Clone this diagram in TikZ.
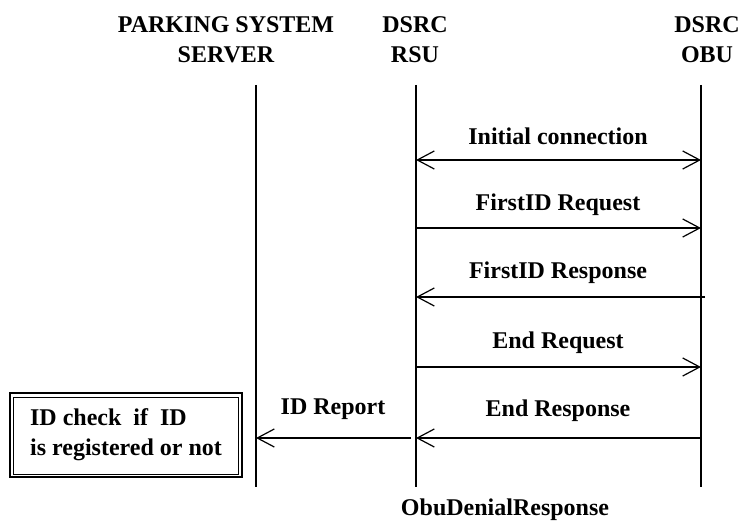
\documentclass[tikz,border=0pt]{standalone}
\usepackage{fontspec}
\setmainfont{Liberation Serif}
\usepackage{tikz}
\usetikzlibrary{arrows.meta,calc}
\newcommand{\msgfont}{\fontsize{12}{15}\selectfont\bfseries}
\tikzset{
  head/.style={font=\msgfont, align=center, inner sep=0pt},
  msg/.style={font=\msgfont, inner sep=0pt},
  life/.style={line width=0.6pt},
  flow/.style={-{Straight Barb[length=8.5pt,width=9pt]}, line width=0.6pt},
  flows/.style={{Straight Barb[length=8.5pt,width=9pt]}-{Straight Barb[length=8.5pt,width=9pt]}, line width=0.6pt},
  chk/.style={draw, line width=1pt, align=left, font=\msgfont, inner sep=0pt,
              minimum width=116pt, minimum height=42pt},
}

\begin{document}
\begin{tikzpicture}[x=0.5pt, y=-0.5pt]
  \useasboundingbox (0,0) rectangle (744,524);
  \node[head] (srv) at (226,40) {PARKING SYSTEM\\SERVER};
  \node[head] (rsu) at (415,40) {DSRC\\RSU};
  \node[head] (obu) at (707,40) {DSRC\\OBU};
  % lifelines
  \coordinate (srvT) at (256,85);  \coordinate (srvB) at (256,487);
  \coordinate (rsuT) at (416,85);  \coordinate (rsuB) at (416,487);
  \coordinate (obuT) at (701,85);  \coordinate (obuB) at (701,487);
  \draw[life] (srvT) -- (srvB);
  \draw[life] (rsuT) -- (rsuB);
  \draw[life] (obuT) -- (obuB);
  % messages
  \coordinate (m1) at (0,160);
  \coordinate (m2) at (0,228);
  \coordinate (m3) at (0,297);
  \coordinate (m4) at (0,367);
  \coordinate (m5) at (0,438);
  \draw[flows] (rsuT |- m1) -- (obuT |- m1);
  \node[msg] (l1) at (558,136) {Initial connection};
  \draw[flow] (rsuT |- m2) -- (obuT |- m2);
  \node[msg] (l2) at (558,205) {FirstID Request};
  \draw[flow] ($(obuT |- m3)+(2pt,0)$) -- (rsuT |- m3);
  \node[msg] (l3) at (558,273) {FirstID Response};
  \draw[flow] (rsuT |- m4) -- (obuT |- m4);
  \node[msg] (l4) at (558,343) {End Request};
  \draw[flow] (obuT |- m5) -- (rsuT |- m5);
  \node[msg] (l5) at (558,411) {End Response};
  \draw[flow] ($(rsuT |- m5)+(-2.5pt,0)$) -- (srvT |- m5);
  \node[msg] (l6) at (333,409) {ID Report};
  % check box
  \node[chk] (idchk) at (126,435) {ID check~ if~ ID\\is registered or not};
  \draw[line width=0.5pt] ($(idchk.north west)+(2pt,-2.5pt)$) rectangle ($(idchk.south east)+(-2.5pt,2pt)$);
  \node[msg] (deny) at (505,510) {ObuDenialResponse};
\end{tikzpicture}
\end{document}
